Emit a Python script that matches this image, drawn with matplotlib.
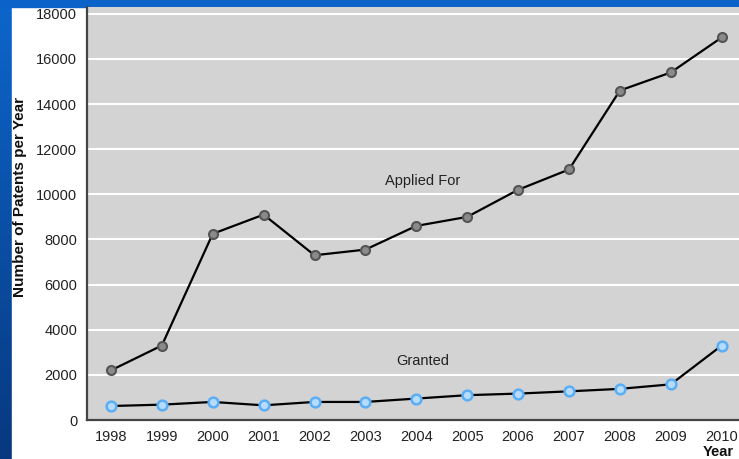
import numpy as np
import matplotlib
matplotlib.use("Agg")
import matplotlib.pyplot as plt
from matplotlib.patches import Rectangle

plt.rcParams['font.family'] = ['Liberation Sans', 'DejaVu Sans']

years = [1998, 1999, 2000, 2001, 2002, 2003, 2004, 2005, 2006, 2007, 2008, 2009, 2010]
applied = [2200, 3300, 8250, 9100, 7300, 7550, 8600, 9000, 10200, 11100, 14600, 15400, 16950]
granted = [620, 680, 800, 650, 800, 800, 950, 1100, 1170, 1270, 1380, 1580, 3300]
yticks = [0, 2000, 4000, 6000, 8000, 10000, 12000, 14000, 16000, 18000]

W, H = 739, 459
fig = plt.figure(figsize=(W / 100, H / 100), dpi=100)

# slide background: blue gradient with white chart area
bg = fig.add_axes([0, 0, 1, 1])
bg.set_axis_off()
grad = np.linspace(0, 1, 256).reshape(-1, 1)
top = np.array([0.05, 0.40, 0.80])
bot = np.array([0.03, 0.22, 0.50])
img = top[None, None, :] * (1 - grad[:, :, None]) + bot[None, None, :] * grad[:, :, None]
bg.imshow(img, aspect='auto', extent=[0, 1, 0, 1], origin='upper')
bg.add_patch(Rectangle((12 / W, 0), 1, (H - 7) / H, color='white'))
bg.add_patch(Rectangle((0, (H - 7) / H), 1, 7 / H, color='#0b63c9'))
bg.set_xlim(0, 1)
bg.set_ylim(0, 1)

# plot area in pixel coords
left, right, bottom, topp = 87, 739, 420, 7
ax = fig.add_axes([left / W, (H - bottom) / H, (right - left) / W, (bottom - topp) / H])
ax.set_facecolor('#d3d3d3')

ax.plot(years, applied, color='black', lw=1.6, marker='o', ms=6.5,
        mfc='#8a8a8a', mec='#555555', mew=1.5, zorder=3)
ax.plot(years, granted, color='black', lw=1.6, marker='o', ms=7,
        mfc='#b5dcff', mec='#5aaef5', mew=1.8, zorder=3)

ax.set_xlim(1997.53, 2010.34)
ax.set_ylim(0, 18300)
ax.set_xticks(years)
ax.set_yticks(yticks)
ax.tick_params(length=0, labelsize=10.5, colors='#222222')
ax.tick_params(axis='y', pad=7)
ax.tick_params(axis='x', pad=7)
ax.grid(axis='y', color='white', lw=1.5)
ax.set_axisbelow(True)

for s in ['top', 'right']:
    ax.spines[s].set_visible(False)
for s in ['left', 'bottom']:
    ax.spines[s].set_color('#444444')
    ax.spines[s].set_linewidth(1.6)

ax.text(2004.13, 10570, 'Applied For', fontsize=10.5, color='#222222', ha='center', va='center')
ax.text(2004.13, 2630, 'Granted', fontsize=10.5, color='#222222', ha='center', va='center')

fig.text(20 / W, 1 - 197 / H, 'Number of Patents per Year', rotation=90, fontsize=11,
         fontweight='bold', ha='center', va='center', color='#111111')
fig.text(718 / W, 1 - 452 / H, 'Year', fontsize=10.5, fontweight='bold',
         ha='center', va='center', color='#111111')

fig.savefig('out.png', dpi=100)
